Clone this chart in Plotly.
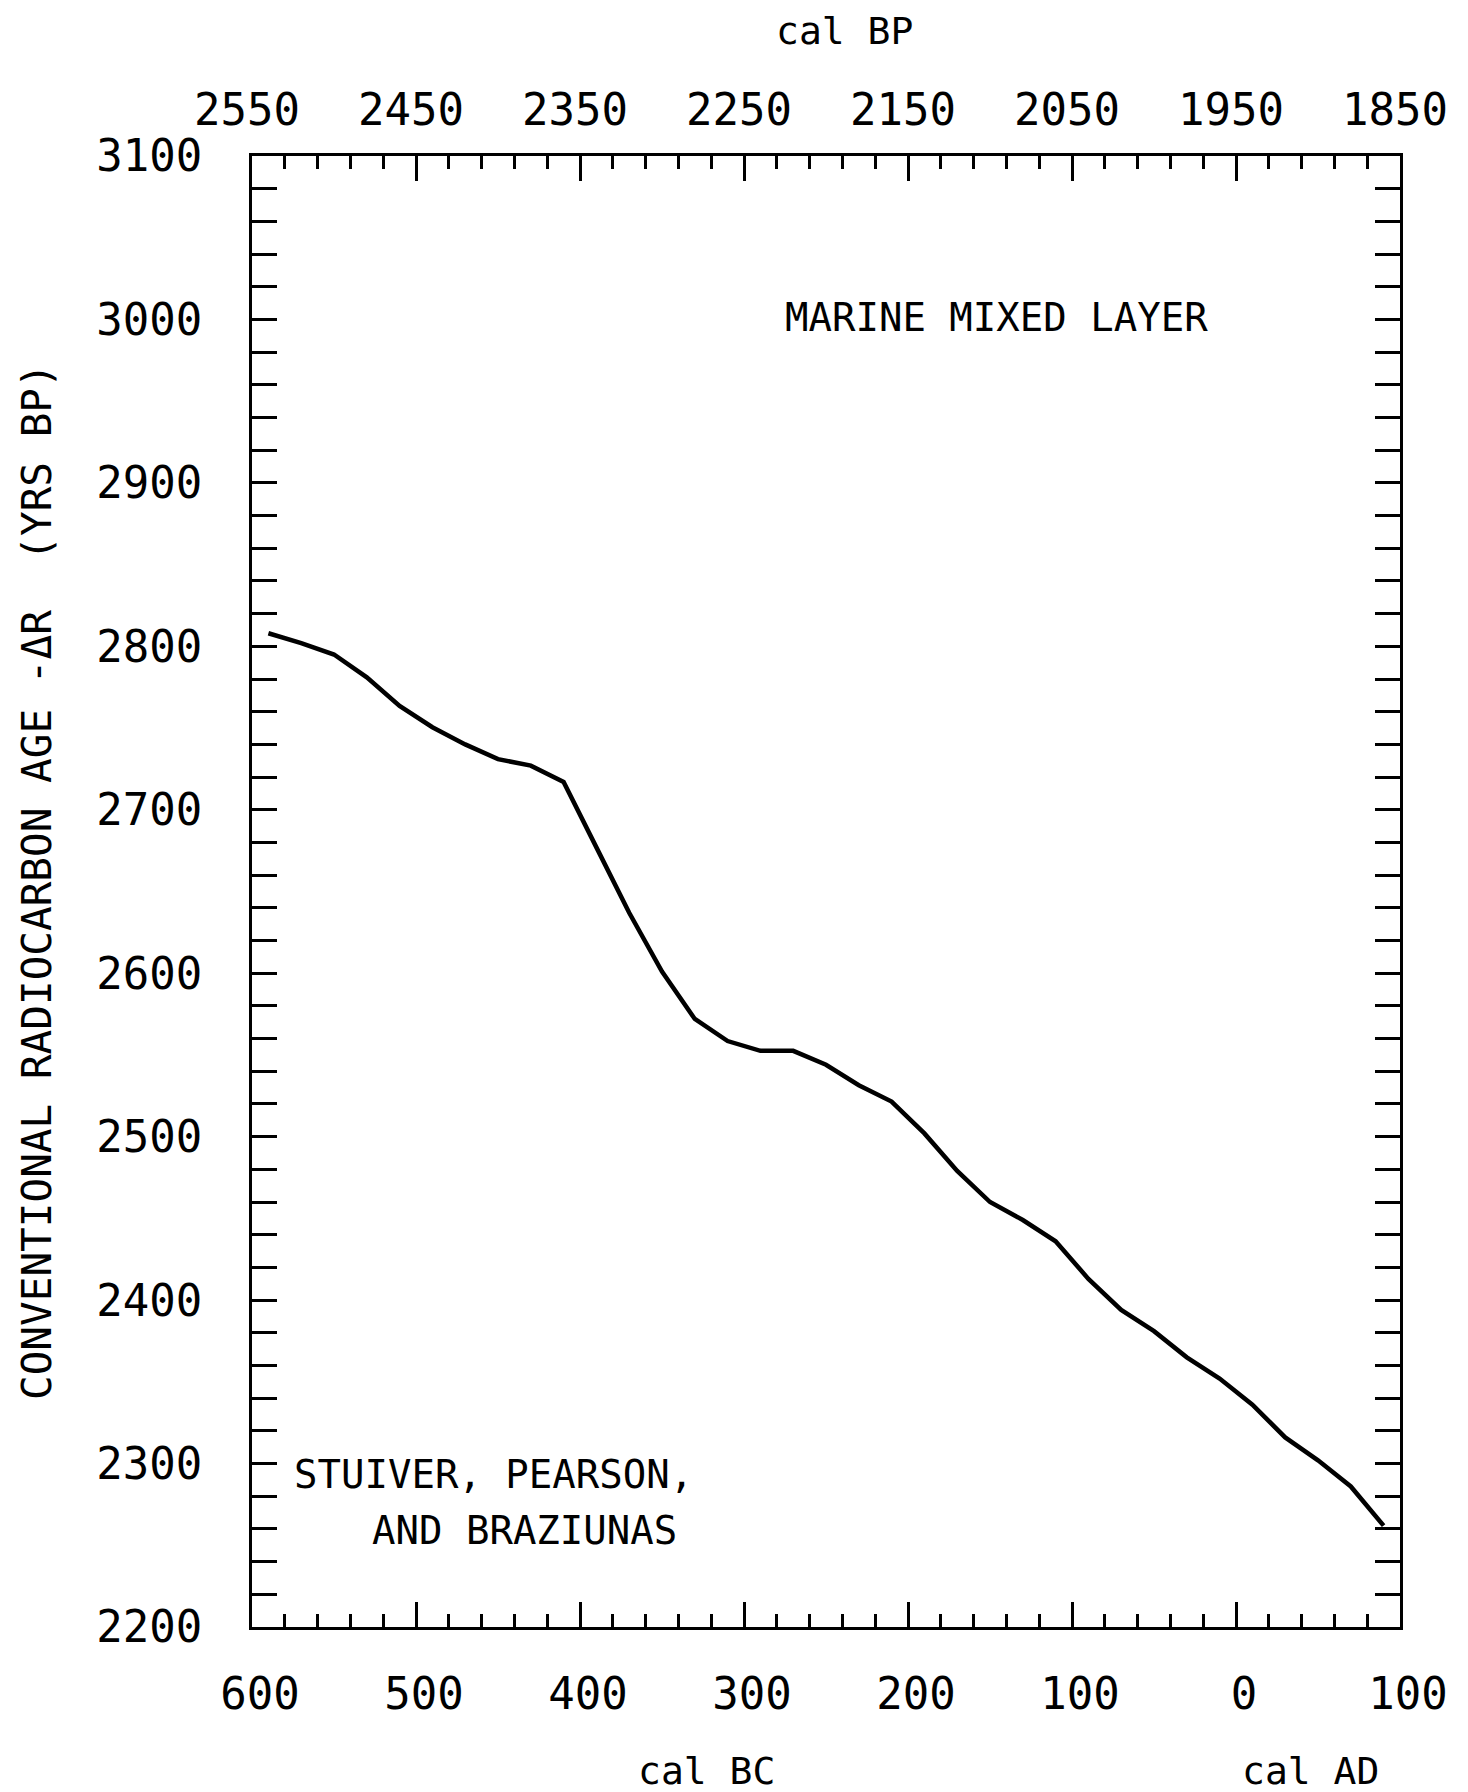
import plotly.graph_objects as go

# calendar year (negative = BC) and conventional radiocarbon age - dR
years = [-590, -570, -550, -530, -510, -490, -470, -450, -430, -410,
         -390, -370, -350, -330, -310, -290, -270, -250, -230, -210,
         -190, -170, -150, -130, -110, -90, -70, -50, -30, -10,
         10, 30, 50, 70, 90]
age = [2808, 2802, 2795, 2781, 2763.5, 2750.5, 2740, 2731, 2727, 2717,
       2677, 2637, 2601, 2572, 2558.5, 2552.5, 2552.5, 2544, 2531.5, 2521.5,
       2502, 2479, 2460, 2449, 2436, 2413, 2394, 2381, 2365, 2352,
       2336, 2316, 2302, 2286, 2262]

bottom_tickvals = [-600, -500, -400, -300, -200, -100, 0, 100]
bottom_ticktext = ["600", "500", "400", "300", "200", "100", "0", "100"]
top_ticktext = ["2550", "2450", "2350", "2250", "2150", "2050", "1950", "1850"]
y_tickvals = [2200, 2300, 2400, 2500, 2600, 2700, 2800, 2900, 3000, 3100]

FONT = "DejaVu Sans Mono"
W, H = 1460, 1784          # page body has an 8px margin
L, T = 244, 148
PW, PH = 1148, 1471
R, B = W - L - PW, H - T - PH
SX0, SY1 = 252, 1627        # plot-area left / bottom in screen pixels


def px(xp):
    return (xp - SX0) / PW


def py(yp):
    return (SY1 - yp) / PH


fig = go.Figure()
fig.add_trace(go.Scatter(x=years, y=age, mode="lines",
                         line=dict(color="black", width=4.5), showlegend=False))
fig.add_trace(go.Scatter(x=years, y=age, mode="lines", xaxis="x2",
                         line=dict(color="rgba(0,0,0,0)", width=0),
                         showlegend=False, hoverinfo="skip"))

axis_common = dict(
    showline=True, linecolor="black", linewidth=3, showgrid=False, zeroline=False,
    ticks="inside", ticklen=25, tickwidth=3, tickcolor="black",
    tickfont=dict(family=FONT, size=44, color="black"),
)

fig.update_layout(
    width=W, height=H,
    margin=dict(l=L, r=R, t=T, b=B),
    plot_bgcolor="white", paper_bgcolor="white",
    showlegend=False,
    xaxis=dict(
        **axis_common,
        range=[-600, 100],
        tickvals=bottom_tickvals, ticktext=bottom_ticktext,
        minor=dict(ticks="inside", dtick=20, tick0=-600, ticklen=13,
                   tickwidth=3, tickcolor="black"),
        ticklabelstandoff=26, ticklabelshift=8,
    ),
    xaxis2=dict(
        **axis_common,
        range=[-600, 100], overlaying="x", side="top", anchor="y",
        tickvals=bottom_tickvals, ticktext=top_ticktext,
        minor=dict(ticks="inside", dtick=20, tick0=-600, ticklen=13,
                   tickwidth=3, tickcolor="black"),
        ticklabelstandoff=10, ticklabelshift=-5,
    ),
    yaxis=dict(
        **axis_common,
        range=[2200, 3100], tickvals=y_tickvals, mirror="allticks",
        minor=dict(ticks="inside", dtick=20, tick0=2200, ticklen=13,
                   tickwidth=3, tickcolor="black"),
        ticklabelstandoff=38,
    ),
)

tf = dict(family=FONT, size=39, color="black")
ann = [
    dict(text="cal BP", x=px(844), y=py(31), font=dict(family=FONT, size=38, color="black")),
    dict(text="cal BC", x=px(706), y=py(1771), font=dict(family=FONT, size=38, color="black")),
    dict(text="cal AD", x=px(1310), y=py(1771), font=dict(family=FONT, size=38, color="black")),
    dict(text="MARINE MIXED LAYER", x=px(996), y=py(318), font=tf),
    dict(text="STUIVER, PEARSON,", x=px(292), y=py(1474), font=tf, xanchor="left"),
    dict(text="AND BRAZIUNAS", x=px(370), y=py(1530), font=tf, xanchor="left"),
    dict(text="CONVENTIONAL RADIOCARBON AGE -ΔR  (YRS BP)", x=px(37), y=py(882),
         textangle=-90, borderpad=0, font=dict(family=FONT, size=41, color="black")),
]
for a in ann:
    a.setdefault("xanchor", "center")
    fig.add_annotation(xref="paper", yref="paper", showarrow=False, yanchor="middle", **a)

fig.write_html("out.html")
